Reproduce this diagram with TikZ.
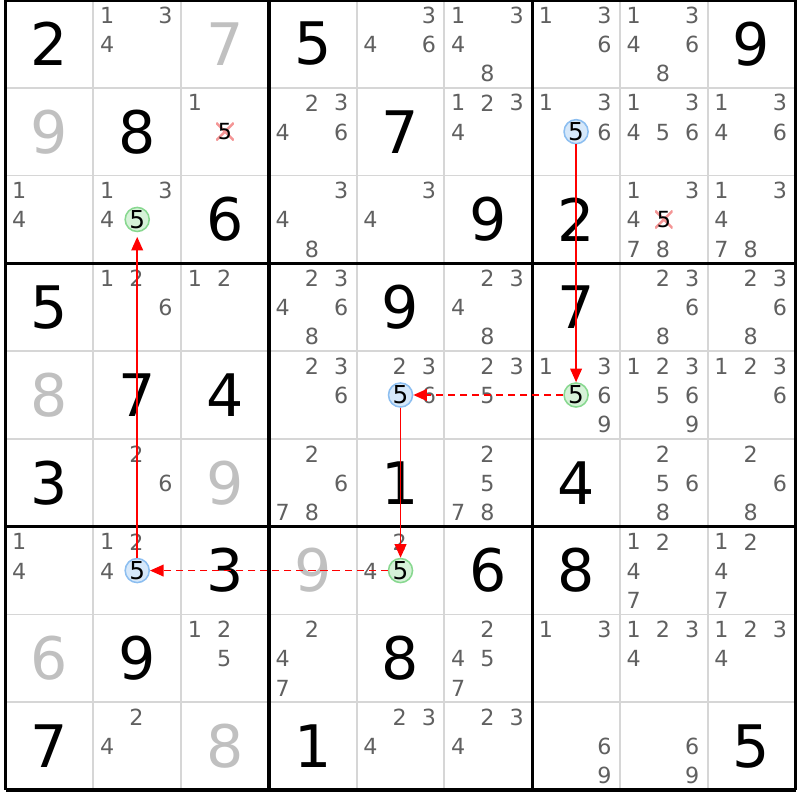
\documentclass[tikz,border=0pt]{standalone}
\usepackage{fontspec}
\setmainfont{DejaVu Sans}
\usetikzlibrary{arrows.meta}
\definecolor{candgray}{RGB}{96,96,96}
\definecolor{fadedgray}{RGB}{192,192,192}
\definecolor{thingray}{RGB}{214,214,214}
\definecolor{pickline}{RGB}{140,190,240}
\definecolor{pickfill}{RGB}{214,232,250}
\definecolor{hitline}{RGB}{136,216,144}
\definecolor{hitfill}{RGB}{214,242,216}
\definecolor{crossred}{RGB}{244,150,150}
\definecolor{linkred}{RGB}{255,0,0}

\begin{document}
\begin{tikzpicture}[x=1cm, y=1cm,
  given/.style = {font=\fontsize{19}{19}\selectfont, inner sep=0pt},
  faded/.style = {given, text=fadedgray},
  cand/.style = {font=\fontsize{7.2}{7.2}\selectfont, inner sep=0pt, text=candgray},
  pick/.style = {circle, draw=pickline, fill=pickfill, line width=0.5pt, minimum size=0.25cm, inner sep=0pt, font=\fontsize{8}{8}\selectfont},
  hit/.style = {pick, draw=hitline, fill=hitfill},
  struck/.style = {minimum size=0.2cm, inner sep=0pt, font=\fontsize{7.2}{7.2}\selectfont,
    path picture={\draw[crossred, line width=0.8pt] (path picture bounding box.north west) -- (path picture bounding box.south east)
      (path picture bounding box.north east) -- (path picture bounding box.south west);}},
  link/.style = {draw=linkred, line width=0.5pt, -{Triangle[length=4.4pt, width=3.8pt, fill=linkred]}},
  weak/.style = {link, dash pattern=on 2.3pt off 1.6pt}]
\useasboundingbox (-0.063,0) rectangle (9.051,-9.114);

% grid
\foreach \i in {1,2,4,5,7,8}
  \draw[thingray, line width=0.6pt] (\i,0) -- (\i,-9) (0,-\i) -- (9,-\i);
\foreach \i in {0,3,6,9}
  \draw[line width=1.1pt] (\i,0) -- (\i,-9) (0,-\i) -- (9,-\i);

% digits
\foreach \r/\c/\v in {0/0/2, 0/3/5, 0/8/9, 1/1/8, 1/4/7, 2/2/6, 2/5/9, 2/6/2, 3/0/5, 3/4/9, 3/6/7, 4/1/7,
    4/2/4, 5/0/3, 5/4/1, 5/6/4, 6/2/3, 6/5/6, 6/6/8, 7/1/9, 7/4/8, 8/0/7, 8/3/1, 8/8/5}
  \node[given] (d\r\c) at (\c+0.5,-\r-0.5) {\v};
\foreach \r/\c/\v in {0/2/7, 1/0/9, 4/0/8, 5/2/9, 6/3/9, 7/0/6, 8/2/8}
  \node[faded] (d\r\c) at (\c+0.5,-\r-0.5) {\v};

% candidates
\foreach \r/\c/\ds in {0/1/{1,3,4}, 0/4/{3,4,6}, 0/5/{1,3,4,8}, 0/6/{1,3,6}, 0/7/{1,3,4,6,8},
    1/2/{1}, 1/3/{2,3,4,6}, 1/5/{1,2,3,4}, 1/6/{1,3,6}, 1/7/{1,3,4,5,6}, 1/8/{1,3,4,6},
    2/0/{1,4}, 2/1/{1,3,4}, 2/3/{3,4,8}, 2/4/{3,4}, 2/7/{1,3,4,7,8}, 2/8/{1,3,4,7,8},
    3/1/{1,2,6}, 3/2/{1,2}, 3/3/{2,3,4,6,8}, 3/5/{2,3,4,8}, 3/7/{2,3,6,8}, 3/8/{2,3,6,8},
    4/3/{2,3,6}, 4/4/{2,3,6}, 4/5/{2,3,5}, 4/6/{1,3,6,9}, 4/7/{1,2,3,5,6,9}, 4/8/{1,2,3,6},
    5/1/{2,6}, 5/3/{2,6,7,8}, 5/5/{2,5,7,8}, 5/7/{2,5,6,8}, 5/8/{2,6,8},
    6/0/{1,4}, 6/1/{1,2,4}, 6/4/{2,4}, 6/7/{1,2,4,7}, 6/8/{1,2,4,7},
    7/2/{1,2,5}, 7/3/{2,4,7}, 7/5/{2,4,5,7}, 7/6/{1,3}, 7/7/{1,2,3,4}, 7/8/{1,2,3,4},
    8/1/{2,4}, 8/4/{2,3,4}, 8/5/{2,3,4}, 8/6/{6,9}, 8/7/{6,9}}
  \foreach \d in \ds {
    \pgfmathtruncatemacro\dx{mod(\d-1,3)-1}
    \pgfmathtruncatemacro\dy{1-div(\d-1,3)}
    \node[cand] (n\r\c\d) at (\c+0.49+0.333*\dx, -\r-0.505+0.333*\dy) {\d};
  }

% eliminated
\node[struck] (x12) at (2.5,-1.5) {5};
\node[struck] (x27) at (7.5,-2.5) {5};

% chain
\node[pick] (b16) at (6.5,-1.5) {5};
\node[hit] (g46) at (6.5,-4.5) {5};
\node[pick] (b44) at (4.5,-4.5) {5};
\node[hit] (g64) at (4.5,-6.5) {5};
\node[pick] (b61) at (1.5,-6.5) {5};
\node[hit] (g21) at (1.5,-2.5) {5};

\draw[link] (b16) -- (g46);
\draw[weak] (g46) -- (b44);
\draw[link] (b44) -- (g64);
\draw[weak] (g64) -- (b61);
\draw[link, shorten >=1.5pt] (b61) -- (g21);
\end{tikzpicture}
\end{document}
